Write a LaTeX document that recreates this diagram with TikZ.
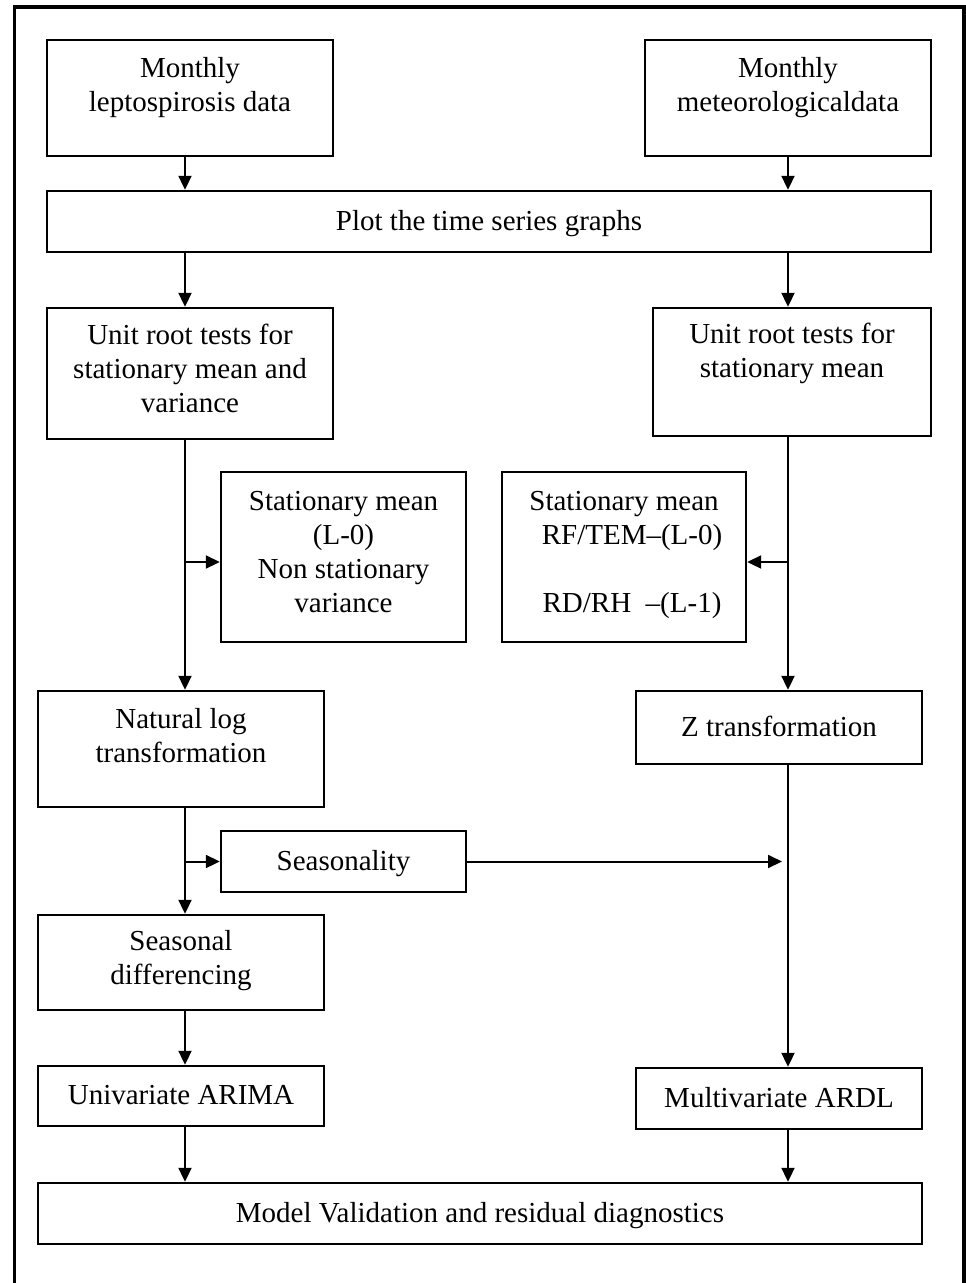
\documentclass[tikz,border=0pt]{standalone}
\usepackage{fontspec}
\setmainfont{Liberation Serif}
\usetikzlibrary{arrows.meta,positioning,calc}

% extra room below the last line of a box
\newcommand{\lowgap}{\rule[-27pt]{0pt}{0pt}}

\begin{document}
\begin{tikzpicture}[
    x=1pt, y=-1pt,
    box/.style={rectangle, draw=black, line width=2.4pt, inner sep=0pt, align=center,
        font=\fontsize{29}{34}\selectfont,
        execute at begin node=\rule{0pt}{27.8pt}, execute at end node=\strut},
    arrow/.style={-{Triangle[length=14pt,width=13pt]}, line width=2pt}
]
\useasboundingbox (0,0) rectangle (966,1283);

% Outer frame
\draw[line width=3.6pt] (14.5,1290) -- (14.5,7) -- (964,7) -- (964,1290);

% Arrow columns
\coordinate (colL) at (185,0);
\coordinate (colR) at (788,0);

% Input data
\node[box, minimum width=286pt, minimum height=116pt] (lepto) at (190,98) {Monthly\\leptospirosis data\lowgap};
\node[box, minimum width=286pt, minimum height=116pt] (meteo) at (788,98) {Monthly\\meteorologicaldata\lowgap};
\node[box, minimum width=884pt, minimum height=61pt] (plot) at (489,221.5) {Plot the time series graphs};

% Unit root tests
\node[box, minimum width=286pt, minimum height=131pt] (unitL) at (190,373.5) {Unit root tests for\\stationary mean and\\variance};
\node[box, minimum width=278pt, minimum height=128pt] (unitR) at (792,372) {Unit root tests for\\stationary mean\\\strut};

% Test results
\node[box, minimum width=245pt, minimum height=170pt] (statL) at (343.5,557) {Stationary mean\\(L-0)\\Non stationary\\variance};
\node[box, minimum width=244pt, minimum height=170pt] (statR) at (624,557) {Stationary mean\\\hspace*{16pt}RF/TEM--(L-0)\\\strut\\\hspace*{16pt}RD/RH\ \ --(L-1)};

% Transformations
\node[box, minimum width=286pt, minimum height=116pt] (natlog) at (181,749) {Natural log\\transformation\lowgap};
\node[box, minimum width=286pt, minimum height=73pt] (ztrans) at (779,727.5) {Z transformation};
\node[box, minimum width=245pt, minimum height=61pt] (season) at (343.5,861.5) {Seasonality};
\node[box, minimum width=286pt, minimum height=95pt] (seasdiff) at (181,962.5) {Seasonal\\differencing};

% Models
\node[box, minimum width=286pt, minimum height=60pt] (arima) at (181,1096) {Univariate ARIMA};
\node[box, minimum width=286pt, minimum height=61pt] (ardl) at (779,1098.5) {Multivariate ARDL};
\node[box, minimum width=884pt, minimum height=61pt] (valid) at (480,1213.5) {Model Validation and residual diagnostics};

% Connections
\draw[arrow] (lepto.south -| colL) -- (plot.north -| colL);
\draw[arrow] (meteo.south -| colR) -- (plot.north -| colR);
\draw[arrow] (plot.south -| colL) -- (unitL.north -| colL);
\draw[arrow] (plot.south -| colR) -- (unitR.north -| colR);

\draw[arrow] (unitL.south -| colL) -- (natlog.north -| colL);
\draw[arrow] ([yshift=-5pt]statL.west -| colL) -- ([yshift=-5pt]statL.west);
\draw[arrow] (unitR.south -| colR) -- (ztrans.north -| colR);
\draw[arrow] ([yshift=-5pt]statR.east -| colR) -- ([yshift=-5pt]statR.east);

\draw[arrow] (natlog.south -| colL) -- (seasdiff.north -| colL);
\draw[arrow] (season.west -| colL) -- (season.west);
\draw[arrow, shorten >=6pt] (season.east) -- (season.east -| colR);
\draw[arrow] (ztrans.south -| colR) -- (ardl.north -| colR);

\draw[arrow] (seasdiff.south -| colL) -- (arima.north -| colL);
\draw[arrow] (arima.south -| colL) -- (valid.north -| colL);
\draw[arrow] (ardl.south -| colR) -- (valid.north -| colR);

\end{tikzpicture}
\end{document}
